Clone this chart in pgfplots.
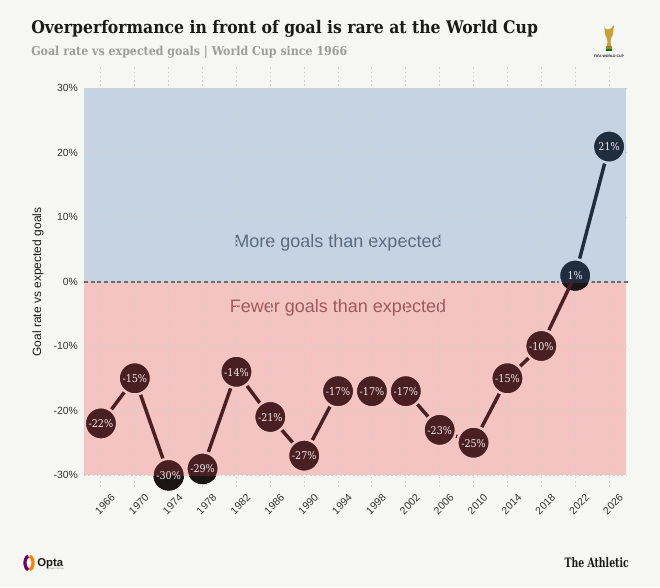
\documentclass[border=0pt]{standalone}
\usepackage{pgfplots}
\pgfplotsset{compat=1.18}
\usepackage{pgfplotstable}
\usepackage{fontspec}
\setmainfont{Liberation Sans}
\newfontfamily\slab{DejaVu Serif Condensed}
\definecolor{bg}{HTML}{F6F6F2}
\definecolor{bluec}{HTML}{C5D3E3}
\definecolor{pinkc}{HTML}{F4C4C3}
\definecolor{maroon}{HTML}{4A1F22}
\definecolor{navy}{HTML}{1F2D3E}
\definecolor{darkc}{HTML}{1B1516}
\definecolor{gridc}{HTML}{CFCFCF}
\definecolor{zeroc}{HTML}{6E6E6E}
\definecolor{tickc}{HTML}{333333}
\definecolor{titlec}{HTML}{1A1A1A}
\definecolor{subc}{HTML}{9C9C9C}
\definecolor{morec}{HTML}{5B6B7D}
\definecolor{fewerc}{HTML}{9E5A5C}
\definecolor{lblc}{HTML}{F5ECEC}
\definecolor{gold}{HTML}{C9A03A}

\pgfplotstableread{
x y
0 -22
1 -15
2 -30
3 -29
4 -14
5 -21
6 -27
7 -17
8 -17
9 -17
10 -23
11 -25
12 -15
13 -10
14 1
15 21
}\wc

\pgfplotsset{
  wcgeom/.style={x=25.406pt, y=4.8375pt, xmin=-0.5, xmax=15.5, anchor=south west},
}

\begin{document}
\begin{tikzpicture}[x=0.75pt,y=0.75pt]
\fill[bg] (0,0) rectangle (660,587);
\useasboundingbox (0,0) rectangle (660,587);

% title & subtitle
\node[anchor=base west, inner sep=0, text=titlec] at (31,553)
  {\resizebox{380pt}{!}{\slab\bfseries Overperformance in front of goal is rare at the World Cup}};
\node[anchor=base west, inner sep=0, text=subc] at (31,531.5)
  {\resizebox{237pt}{!}{\slab\bfseries Goal rate vs expected goals | World Cup since 1966}};

% trophy
\fill[gold] (604,562) .. controls (603,556) and (611,556) .. (614,562) -- (613,553)
  .. controls (611,550) and (610,547) .. (611,541) -- (607,541)
  .. controls (608,547) and (607,550) .. (605,553) -- cycle;
\fill[gold!80!black] (606,541) rectangle (612,538);
\fill[green!45!black] (606,538) rectangle (612,536);
\node[inner sep=0, font=\fontsize{2.6pt}{3pt}\selectfont\bfseries, text=titlec] at (609,531) {FIFA WORLD CUP};

% regions
\fill[bluec] (84,305) rectangle (626,499);
\fill[pinkc] (84,112) rectangle (626,305);
\node[text=morec, font=\fontsize{13.5pt}{16pt}\selectfont] at (338,344) {More goals than expected};
\node[text=fewerc, font=\fontsize{13.5pt}{16pt}\selectfont] at (338,279) {Fewer goals than expected};

% y label
\node[rotate=90, text=titlec, font=\fontsize{9pt}{11pt}\selectfont] at (38,305) {Goal rate vs expected goals};

% main axis: grid, ticks, dark markers
\begin{axis}[wcgeom, at={(63pt,75pt)}, ymin=-31.8, ymax=33.3,
  axis line style={draw=none}, major tick length=0pt,
  grid=major, grid style={gridc, line width=0.8pt, dash pattern=on 1.2pt off 2pt},
  xtick={0,...,15},
  xticklabels={1966,1970,1974,1978,1982,1986,1990,1994,1998,2002,2006,2010,2014,2018,2022,2026},
  ytick={-30,-20,...,30},
  yticklabel={\pgfmathprintnumber{\tick}\%},
  /pgf/number format/assume math mode=true,
  ticklabel style={text=tickc, font=\fontsize{7.8pt}{9pt}\selectfont},
  xticklabel style={anchor=center, inner sep=0pt, xshift=3pt, yshift=-13pt, rotate=45},
  yticklabel style={xshift=-1pt},
  clip=false]
\addplot[only marks, mark=*, mark size=11.25pt,
  mark options={fill=darkc, draw=none}] table {\wc};
\end{axis}

% zero line
\draw[zeroc, line width=1.1pt, dash pattern=on 3pt off 2pt] (84,305) -- (630,305);

% negative zone: maroon
\begin{axis}[wcgeom, at={(63pt,84pt)}, ymin=-30, ymax=0, hide axis, clip marker paths=true]
\addplot[maroon, line width=2.6pt, mark=*, mark size=12.2pt,
  mark options={fill=maroon, draw=pinkc, line width=1.9pt}] table {\wc};
\end{axis}

% positive zone: navy
\begin{axis}[wcgeom, at={(63pt,228.75pt)}, ymin=0, ymax=30, hide axis, clip marker paths=true]
\addplot[navy, line width=2.6pt, mark=*, mark size=12.2pt,
  mark options={fill=navy, draw=bluec, line width=1.9pt}] table {\wc};
\end{axis}

% labels
\begin{axis}[wcgeom, at={(63pt,75pt)}, ymin=-31.8, ymax=33.3, hide axis, clip=false,
  /pgf/number format/assume math mode=true]
\addplot[only marks, mark=none, point meta=y,
  nodes near coords={\pgfmathprintnumber{\pgfplotspointmeta}\%},
  every node near coord/.append style={anchor=center, inner sep=0pt, text=lblc,
    font=\slab\fontsize{8pt}{9pt}\selectfont}] table {\wc};
\end{axis}

% footer
\draw[line width=2.4pt, color=violet!85!black] (29,24) ++(100:4 and 7) arc[start angle=100, end angle=260, x radius=4, y radius=7];
\draw[line width=2.4pt, color=orange] (29,24) ++(80:4 and 7) arc[start angle=80, end angle=-80, x radius=4, y radius=7];
\node[anchor=base west, inner sep=0, text=titlec, font=\fontsize{8.5pt}{10pt}\selectfont\bfseries] at (37,21) {Opta};
\node[anchor=base west, inner sep=0, text=gray, font=\fontsize{1.8pt}{2pt}\selectfont] at (46,17.5) {by Stats Perform};
\node[anchor=base east, inner sep=0, text=titlec] at (629,19.3)
  {\resizebox{48pt}{7.4pt}{\slab\bfseries The Athletic}};
\end{tikzpicture}
\end{document}
